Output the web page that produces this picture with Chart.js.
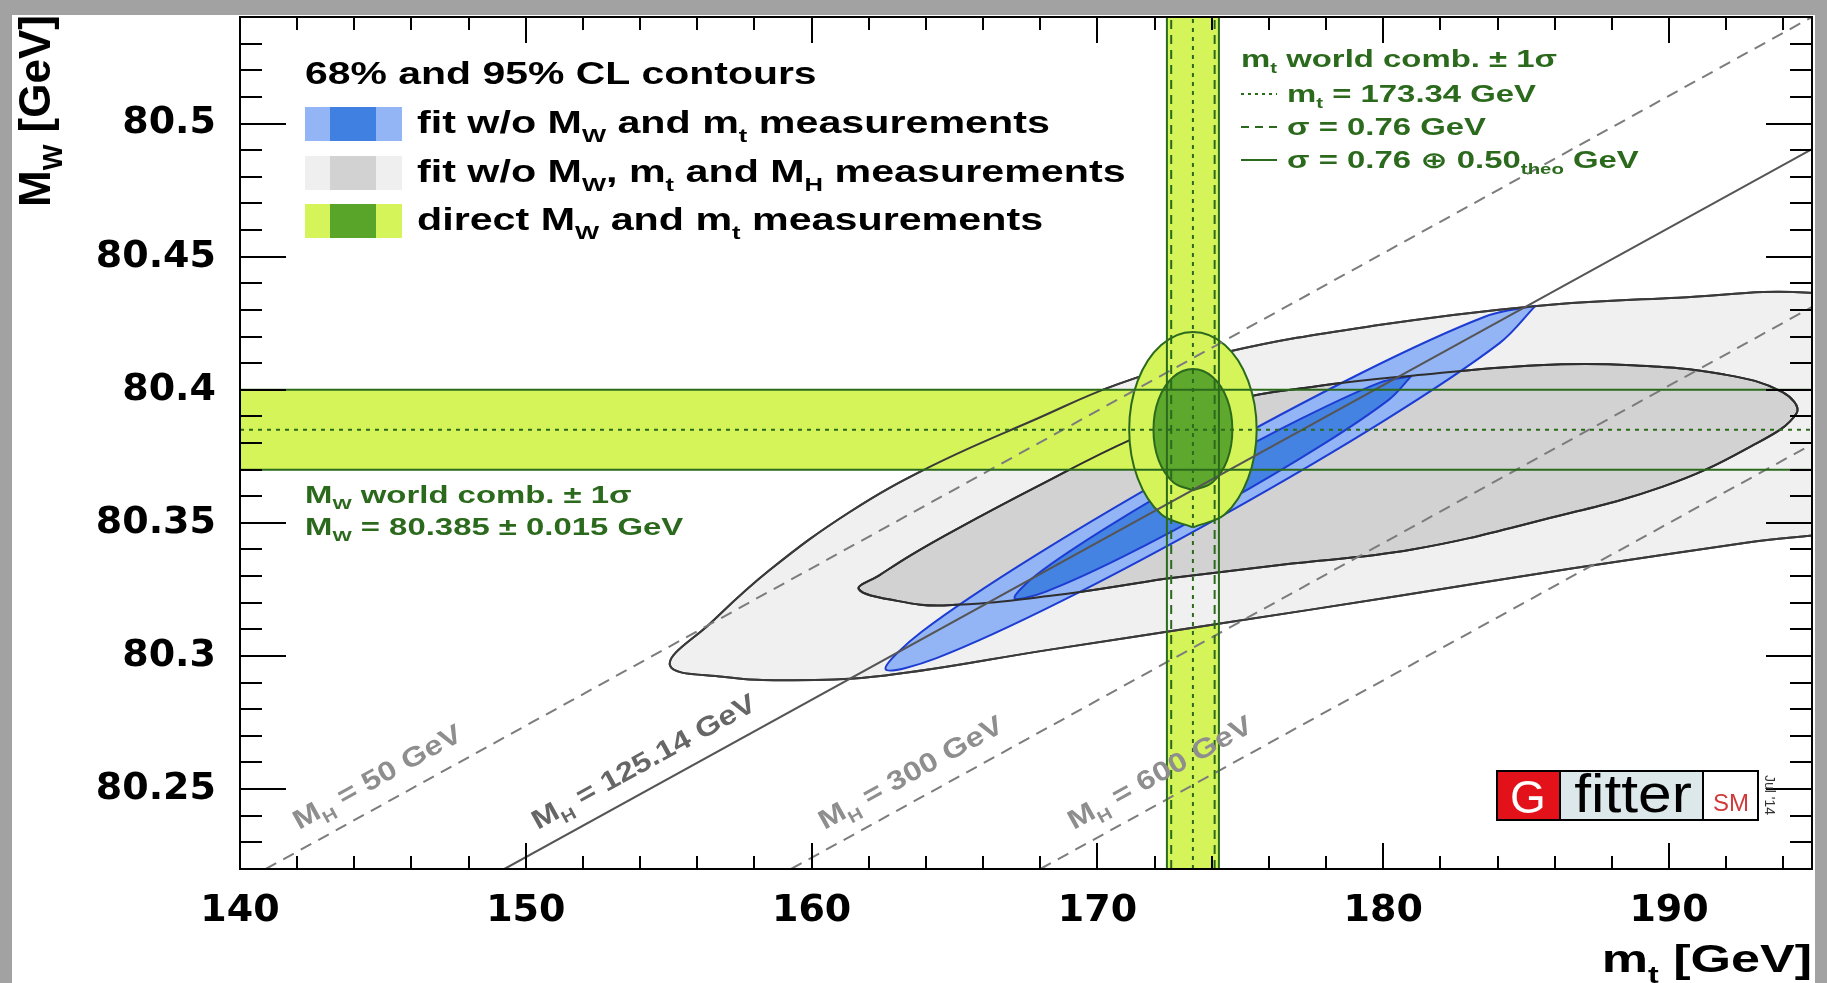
<!DOCTYPE html>
<html>
<head>
<meta charset="utf-8">
<title>MW vs mt</title>
<script src="https://cdn.jsdelivr.net/npm/chart.js@4.4.1/dist/chart.umd.min.js"></script>
<style>
  html, body { margin: 0; padding: 0; background: #fff; }
</style>
</head>
<body>
<canvas id="chart" width="1827" height="983"></canvas>
<script>
// axes
var xMin = 140, xMax = 195, yMin = 80.22, yMax = 80.54;
var xTicks = [140, 150, 160, 170, 180, 190];
var yTicks = [80.25, 80.3, 80.35, 80.4, 80.45, 80.5];
var yTickLabels = ['80.25', '80.3', '80.35', '80.4', '80.45', '80.5'];

// world averages
var mtCentral = 173.34, mtSigma = 0.76, mtSigmaTot = 0.91;
var mwCentral = 80.385, mwSigma = 0.015;

// fit w/o MW, mt and MH (grey), 95% and 68% contours
var grey95X = [174.41, 180.52, 186.64, 192.75, 196.83, 200.09, 200.91, 199.27, 194.91, 190.31, 185.37, 179.71,
               174.45, 170.74, 167.88, 164.22, 161.32, 158.51, 156.47, 155.04, 156.88, 159.32, 162.58, 168.29];
var grey95Y = [80.3124, 80.3225, 80.3330, 80.3426, 80.3488, 80.3628, 80.3978, 80.4285, 80.4364, 80.4346, 80.4315, 80.4241,
               80.4140, 80.4022, 80.3891, 80.3715, 80.3540, 80.3321, 80.3124, 80.2966, 80.2922, 80.2909, 80.2927, 80.3023];
var grey68X = [172.37, 176.45, 181.01, 185.82, 189.78, 192.75, 194.46, 193.97, 191.94, 188.68, 185.41, 181.01,
               177.67, 174.45, 171.15, 167.88, 165.03, 163.52, 162.38, 161.65, 162.99, 164.62, 168.29];
var grey68Y = [80.3290, 80.3343, 80.3400, 80.3518, 80.3636, 80.3781, 80.3912, 80.3991, 80.4057, 80.4092, 80.4092, 80.4053,
               80.4013, 80.3952, 80.3812, 80.3636, 80.3474, 80.3382, 80.3304, 80.3251, 80.3207, 80.3190, 80.3225];

// fit w/o MW and mt (blue)
var blue95X = [185.33, 184.07, 180.09, 174.48, 168.72, 164.37, 162.59, 163.85, 167.82, 173.44, 179.20, 183.55];
var blue95Y = [80.4316, 80.4175, 80.3888, 80.3534, 80.3205, 80.2992, 80.2950, 80.3091, 80.3377, 80.3732, 80.4061, 80.4274];
var blue68X = [180.98, 180.21, 177.79, 174.37, 170.86, 168.20, 167.10, 167.87, 170.29, 173.71, 177.23, 179.88];
var blue68Y = [80.4051, 80.3964, 80.3788, 80.3571, 80.3371, 80.3242, 80.3217, 80.3305, 80.3480, 80.3697, 80.3897, 80.4027];

// direct MW and mt measurements (green)
var direct95X = [173.34, 174.46, 175.27, 175.57, 175.27, 174.46, 173.34, 172.23, 171.41, 171.11, 171.41, 172.23];
var direct95Y = [80.3483, 80.3532, 80.3667, 80.385, 80.4034, 80.4168, 80.4217, 80.4168, 80.4034, 80.385, 80.3667, 80.3532];
var direct68X = [173.34, 174.03, 174.54, 174.72, 174.54, 174.03, 173.34, 172.65, 172.14, 171.96, 172.14, 172.65];
var direct68Y = [80.3622, 80.3653, 80.3736, 80.385, 80.3964, 80.4048, 80.4078, 80.4048, 80.3964, 80.385, 80.3736, 80.3653];

// SM lines for fixed MH: start on the lower frame, end on the right frame
var mhLabels = ['50', '125.14', '300', '600'];
var mhStartX = [140.9, 149.25, 159.28, 168.0];
var mhEndY = [80.54, 80.4904, 80.4311, 80.3795];

var legendTitle = '68% and 95% CL contours';
var legendRows = [
  [['fit w/o M'], ['W', 's'], [' and m'], ['t', 's'], [' measurements']],
  [['fit w/o M'], ['W', 's'], [', m'], ['t', 's'], [' and M'], ['H', 's'], [' measurements']],
  [['direct M'], ['W', 's'], [' and m'], ['t', 's'], [' measurements']]
];

var bandColor = '#d5f45a';
var darkGreen = '#2b6a1c';
var FONT = '"Liberation Sans", Arial, "DejaVu Sans", sans-serif';

function closed(xs, ys) {
  var pts = xs.map(function (x, i) { return { x: x, y: ys[i] }; });
  pts.push({ x: xs[0], y: ys[0] });
  return pts;
}
function seg(x0, y0, x1, y1) { return [{ x: x0, y: y0 }, { x: x1, y: y1 }]; }

var mtLo = mtCentral - mtSigmaTot, mtHi = mtCentral + mtSigmaTot;

// listed bottom layer first
var layers = [
  { data: closed([mtLo, mtHi, mtHi, mtLo], [yMin, yMin, yMax, yMax]), fill: 'shape', backgroundColor: bandColor, borderWidth: 0, tension: 0 },
  { data: closed(grey95X, grey95Y), fill: 'shape', backgroundColor: '#f0f0f0', borderColor: '#3a3a3a', borderWidth: 2, tension: 0.4 },
  { data: closed(grey68X, grey68Y), fill: 'shape', backgroundColor: '#d2d2d2', borderColor: '#2e2e2e', borderWidth: 2, tension: 0.4 },
  { data: closed(blue95X, blue95Y), fill: 'shape', backgroundColor: '#93b5f6', borderColor: '#1c3cd2', borderWidth: 2, tension: 0.35 },
  { data: closed(blue68X, blue68Y), fill: 'shape', backgroundColor: '#4483e2', borderColor: '#1c3cd2', borderWidth: 2, tension: 0.35 },
  { data: closed([xMin, mtLo, mtLo, xMin], [mwCentral - mwSigma, mwCentral - mwSigma, mwCentral + mwSigma, mwCentral + mwSigma]), fill: 'shape', backgroundColor: bandColor, borderWidth: 0, tension: 0 },
  { data: closed(grey95X, grey95Y), fill: false, borderColor: '#3a3a3a', borderWidth: 2, tension: 0.4 },
  { data: closed(grey68X, grey68Y), fill: false, borderColor: '#2e2e2e', borderWidth: 2, tension: 0.4 },
  { data: closed(direct95X, direct95Y), fill: 'shape', backgroundColor: bandColor, borderColor: darkGreen, borderWidth: 2, tension: 0.35 },
  { data: closed(direct68X, direct68Y), fill: 'shape', backgroundColor: '#5ea92d', borderColor: darkGreen, borderWidth: 2, tension: 0.35 }
];
mhLabels.forEach(function (m, i) {
  var solid = m === '125.14';
  layers.push({ data: seg(mhStartX[i], yMin, xMax, mhEndY[i]), fill: false, borderWidth: 2,
    borderColor: solid ? '#555555' : '#7c7c7c', borderDash: solid ? [] : [12, 8] });
});
[mwCentral - mwSigma, mwCentral + mwSigma].forEach(function (v) {
  layers.push({ data: seg(xMin, v, xMax, v), fill: false, borderColor: darkGreen, borderWidth: 2 });
});
layers.push({ data: seg(xMin, mwCentral, xMax, mwCentral), fill: false, borderColor: darkGreen, borderWidth: 2, borderDash: [4, 5] });
[mtLo, mtHi].forEach(function (v) {
  layers.push({ data: seg(v, yMin, v, yMax), fill: false, borderColor: darkGreen, borderWidth: 2 });
});
[mtCentral - mtSigma, mtCentral + mtSigma].forEach(function (v) {
  layers.push({ data: seg(v, yMin, v, yMax), fill: false, borderColor: darkGreen, borderWidth: 2, borderDash: [9, 6] });
});
layers.push({ data: seg(mtCentral, yMin, mtCentral, yMax), fill: false, borderColor: darkGreen, borderWidth: 2, borderDash: [4, 5] });

layers.forEach(function (d, i) {
  d.showLine = true;
  d.order = layers.length - i;
});

// rich text helpers: parts = [[text], [text, 's']]
function richWidth(ctx, parts, size) {
  var w = 0;
  parts.forEach(function (p) {
    ctx.font = 'bold ' + (p[1] === 's' ? size * 0.62 : size) + 'px ' + FONT;
    w += ctx.measureText(p[0]).width;
  });
  return w;
}
function putText(ctx, parts, x, y, o) {
  var size = o.size, k = o.stretch || 1;
  ctx.save();
  ctx.translate(x, y);
  if (o.rot) ctx.rotate(o.rot);
  ctx.scale(k, 1);
  ctx.fillStyle = o.color || '#000';
  ctx.textAlign = 'left';
  ctx.textBaseline = 'alphabetic';
  var cx = o.align === 'right' ? -richWidth(ctx, parts, size) : 0;
  parts.forEach(function (p) {
    var sub = p[1] === 's';
    ctx.font = 'bold ' + (sub ? size * 0.62 : size) + 'px ' + FONT;
    ctx.fillText(p[0], cx, sub ? size * 0.28 : 0);
    cx += ctx.measureText(p[0]).width;
  });
  ctx.restore();
}
function stroke(ctx, x0, y0, x1, y1) {
  ctx.beginPath(); ctx.moveTo(x0, y0); ctx.lineTo(x1, y1); ctx.stroke();
}

var backdrop = {
  id: 'backdrop',
  beforeDraw: function (chart) {
    var ctx = chart.ctx;
    ctx.save();
    ctx.fillStyle = '#a2a2a2';
    ctx.fillRect(0, 0, chart.width, 15);
    ctx.fillRect(0, 0, 12, chart.height);
    ctx.fillRect(chart.width - 12, 0, 12, chart.height);
    ctx.restore();
  }
};

var frame = {
  id: 'frame',
  afterDatasetsDraw: function (chart) {
    var ctx = chart.ctx, a = chart.chartArea, xs = chart.scales.x, ys = chart.scales.y;
    var i, v, p, len;
    ctx.save();
    ctx.strokeStyle = '#000';
    ctx.lineWidth = 2;
    for (i = 0; i <= 27; i++) {
      v = xMin + 2 * i;
      p = Math.round(xs.getPixelForValue(v));
      len = (i % 5 === 0) ? 26 : 13;
      stroke(ctx, p, a.bottom, p, a.bottom - len);
      stroke(ctx, p, a.top, p, a.top + len);
    }
    for (i = 1; i <= 32; i++) {
      v = yMin + 0.01 * i;
      p = Math.round(ys.getPixelForValue(v));
      len = (i % 5 === 3) ? 46 : 22;
      stroke(ctx, a.left, p, a.left + len, p);
      stroke(ctx, a.right, p, a.right - len, p);
    }
    ctx.strokeRect(a.left, a.top, a.right - a.left, a.bottom - a.top);
    ctx.restore();
  }
};

var notes = {
  id: 'notes',
  afterDraw: function (chart) {
    var ctx = chart.ctx, xs = chart.scales.x, ys = chart.scales.y;
    ctx.save();

    // legend
    putText(ctx, [[legendTitle]], 305, 84, { size: 31, stretch: 1.32 });
    var boxFill = [['#93b5f6', '#3f80e0'], ['#efefef', '#d2d2d2'], [bandColor, '#58a52a']];
    var rowTop = [107, 156, 204], rowBase = [133, 182, 230];
    legendRows.forEach(function (r, i) {
      ctx.fillStyle = boxFill[i][0];
      ctx.fillRect(305, rowTop[i], 97, 34);
      ctx.fillStyle = boxFill[i][1];
      ctx.fillRect(330, rowTop[i], 46, 34);
      putText(ctx, r, 417, rowBase[i], { size: 31, stretch: 1.33 });
    });

    // MW world average
    var g = { size: 23, stretch: 1.43, color: darkGreen };
    putText(ctx, [['M'], ['W', 's'], [' world comb. \u00b1 1\u03c3']], 305, 503, g);
    putText(ctx, [['M'], ['W', 's'], [' = 80.385 \u00b1 0.015 GeV']], 305, 535, g);

    // mt world average
    putText(ctx, [['m'], ['t', 's'], [' world comb. \u00b1 1\u03c3']], 1241, 67, g);
    putText(ctx, [['m'], ['t', 's'], [' = 173.34 GeV']], 1287, 102, g);
    putText(ctx, [['\u03c3 = 0.76 GeV']], 1287, 135, g);
    putText(ctx, [['\u03c3 = 0.76 \u2295 0.50'], ['theo', 's'], [' GeV']], 1287, 168, g);
    ctx.strokeStyle = darkGreen;
    ctx.lineWidth = 2;
    ctx.setLineDash([3, 4]); stroke(ctx, 1241, 94, 1277, 94);
    ctx.setLineDash([8, 6]); stroke(ctx, 1241, 127, 1277, 127);
    ctx.setLineDash([]); stroke(ctx, 1241, 160, 1277, 160);

    // MH labels along the lines
    mhLabels.forEach(function (m, i) {
      var x0 = xs.getPixelForValue(mhStartX[i]), y0 = ys.getPixelForValue(yMin);
      var x1 = xs.getPixelForValue(xMax), y1 = ys.getPixelForValue(mhEndY[i]);
      var ang = Math.atan2(y1 - y0, x1 - x0);
      var ux = Math.cos(ang), uy = Math.sin(ang);
      var px = x0 + 48 * ux + 18 * uy, py = y0 + 48 * uy - 18 * ux;
      putText(ctx, [['M'], ['H', 's'], [' = ' + m + ' GeV']], px, py,
        { size: 27, stretch: 1.2, rot: ang, color: m === '125.14' ? '#666666' : '#8e8e8e' });
    });

    // axis titles
    putText(ctx, [['m'], ['t', 's'], [' [GeV]']], 1812, 972, { size: 38, stretch: 1.37, align: 'right' });
    putText(ctx, [['M'], ['W', 's'], [' [GeV]']], 50, 207, { size: 44, rot: -Math.PI / 2 });

    // Gfitter logo
    var lx = 1497, ly = 771, lh = 49;
    ctx.fillStyle = '#e3121a'; ctx.fillRect(lx, ly, 63, lh);
    ctx.fillStyle = '#dde8ea'; ctx.fillRect(lx + 63, ly, 143, lh);
    ctx.fillStyle = '#ffffff'; ctx.fillRect(lx + 206, ly, 55, lh);
    ctx.strokeStyle = '#000'; ctx.lineWidth = 2;
    ctx.strokeRect(lx, ly, 261, lh);
    stroke(ctx, lx + 63, ly, lx + 63, ly + lh);
    stroke(ctx, lx + 206, ly, lx + 206, ly + lh);
    ctx.textBaseline = 'alphabetic';
    ctx.textAlign = 'center';
    ctx.fillStyle = '#fff';
    ctx.font = '46px ' + FONT;
    ctx.fillText('G', lx + 31, ly + 42);
    ctx.save();
    ctx.translate(lx + 136, ly + 41);
    ctx.scale(1.12, 1);
    ctx.fillStyle = '#000';
    ctx.font = '54px ' + FONT;
    ctx.fillText('fitter', 0, 0);
    ctx.restore();
    ctx.fillStyle = '#d23a3a';
    ctx.font = '24px ' + FONT;
    ctx.fillText('SM', lx + 234, ly + 40);
    ctx.save();
    ctx.translate(lx + 266, ly + 4);
    ctx.rotate(Math.PI / 2);
    ctx.textAlign = 'left';
    ctx.fillStyle = '#333';
    ctx.font = '14px ' + FONT;
    ctx.fillText('Jul \'14', 0, -2);
    ctx.restore();

    ctx.restore();
  }
};

var tickFont = { family: '"DejaVu Sans", sans-serif', size: 38, weight: 'bold' };

new Chart(document.getElementById('chart').getContext('2d'), {
  type: 'scatter',
  data: { datasets: layers },
  options: {
    responsive: false,
    animation: false,
    events: [],
    layout: { padding: { left: 0, right: 15, top: 17, bottom: 0 } },
    elements: {
      point: { radius: 0, hoverRadius: 0 },
      line: { capBezierPoints: false, borderJoinStyle: 'round' }
    },
    plugins: { legend: { display: false }, tooltip: { enabled: false } },
    scales: {
      x: {
        type: 'linear', position: 'bottom', min: xMin, max: xMax,
        afterFit: function (s) { s.height = 114; s.paddingLeft = 0; s.paddingRight = 0; },
        afterBuildTicks: function (s) { s.ticks = xTicks.map(function (v) { return { value: v }; }); },
        ticks: { font: tickFont, color: '#000', padding: 11, maxRotation: 0, autoSkip: false,
          callback: function (v) { return String(v); } },
        grid: { display: false },
        border: { display: false }
      },
      y: {
        type: 'linear', position: 'left', min: yMin, max: yMax,
        afterFit: function (s) { s.width = 240; s.paddingTop = 0; s.paddingBottom = 0; },
        afterBuildTicks: function (s) { s.ticks = yTicks.map(function (v) { return { value: v }; }); },
        ticks: { font: tickFont, color: '#000', padding: 16, autoSkip: false,
          callback: function (v, i) { return yTickLabels[i]; } },
        grid: { display: false },
        border: { display: false }
      }
    }
  },
  plugins: [backdrop, frame, notes]
});
</script>
</body>
</html>
